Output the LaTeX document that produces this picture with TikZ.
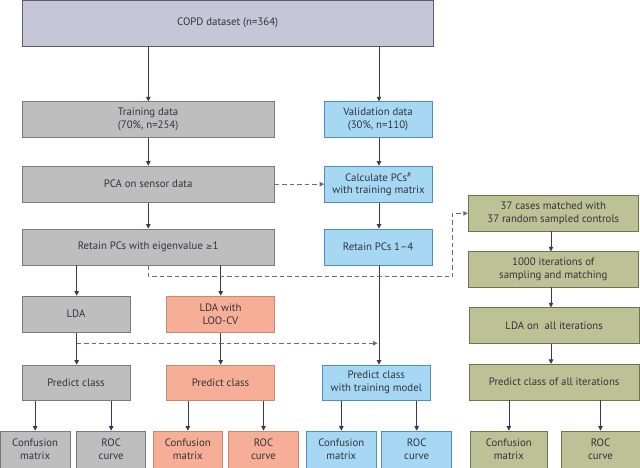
\documentclass[tikz,border=0pt]{standalone}
\usepackage{fontspec}
\setmainfont{PT Sans}
\newfontfamily\symf{DejaVu Sans}
\usetikzlibrary{arrows.meta}
\definecolor{copdF}{HTML}{C6C6D9}
\definecolor{copdD}{HTML}{5E5A72}
\definecolor{greyF}{HTML}{BEBEBE}
\definecolor{greyD}{HTML}{7A7A7A}
\definecolor{blueF}{HTML}{A6D8F4}
\definecolor{blueD}{HTML}{4F8EC0}
\definecolor{redF}{HTML}{F6AE96}
\definecolor{redD}{HTML}{C98870}
\definecolor{greenF}{HTML}{BDC196}
\definecolor{greenD}{HTML}{70744E}
\definecolor{arrC}{HTML}{3F3454}
\definecolor{dashC}{HTML}{6E6880}
\definecolor{txtC}{HTML}{33333D}
\tikzset{
  box/.style={draw, line width=0.8pt, inner sep=0pt, align=center, text=txtC,
    font=\fontsize{10.8}{12.7}\selectfont},
  copdbox/.style={box, fill=copdF, draw=copdD},
  greybox/.style={box, fill=greyF, draw=greyD},
  bluebox/.style={box, fill=blueF, draw=blueD},
  redbox/.style={box, fill=redF, draw=redD},
  greenbox/.style={box, fill=greenF, draw=greenD},
  arr/.style={draw=arrC, line width=0.7pt, -{Triangle[width=4.5pt,length=4.5pt]}},
  darr/.style={draw=dashC, line width=0.8pt, dash pattern=on 4.5pt off 3pt, -{Triangle[width=4.5pt,length=4.5pt]}}
}
\newcommand\bx[7]{\node[#6, minimum width={(#4-#2)*1pt}, minimum height={(#5-#3)*1pt}] (#1) at ({(#2+#4)/2},{(#3+#5)/2}) {#7};}
\begin{document}
\begin{tikzpicture}[x=1pt,y=-1pt]
\useasboundingbox (0,0) rectangle (640,468);
\fill[white] (0,0) rectangle (640,468);
% boxes
\bx{copd}{22}{0.4}{433.3}{46}{copdbox}{COPD dataset (n=364)}
\bx{trn}{22}{101.7}{274.3}{137.3}{greybox}{Training data\\(70\%, n=254)}
\bx{val}{324}{101.7}{432}{137.3}{bluebox}{Validation data\\(30\%, n=110)}
\bx{pca}{22}{166}{274.3}{202.3}{greybox}{PCA on sensor data}
\bx{calc}{324.5}{166}{432.5}{202.3}{bluebox}{Calculate PCs$^{\#}$\\with training matrix}
\bx{ret}{22}{229}{274.3}{265}{greybox}{Retain PCs with eigenvalue {\symf\fontsize{8}{9}\selectfont ≥}1}
\bx{ret4}{324}{229}{432}{265}{bluebox}{Retain PCs 1–4}
\bx{lda}{22}{296}{130}{332.3}{greybox}{LDA}
\bx{ldacv}{166.7}{296}{274.3}{332.3}{redbox}{LDA with\\LOO-CV}
\bx{pgrey}{22}{365}{130}{400.3}{greybox}{Predict class}
\bx{pred}{166.7}{365}{274.3}{400.3}{redbox}{Predict class}
\bx{pblue}{322.3}{365}{430.3}{400.3}{bluebox}{Predict class\\with training model}
\bx{c37}{468.3}{195.7}{638.3}{231}{greenbox}{37 cases matched with\\37 random sampled controls}
\bx{it}{468.3}{251.7}{638.3}{287}{greenbox}{1000 iterations of\\sampling and matching}
\bx{ldaall}{469.3}{307.7}{639}{343.3}{greenbox}{LDA on\ \ all iterations}
\bx{pall}{469.3}{364.3}{639}{400}{greenbox}{Predict class of all iterations}
\bx{cm1}{0}{431}{70.3}{468}{greybox}{Confusion\\matrix}
\bx{roc1}{76.7}{431}{145.7}{468}{greybox}{ROC\\curve}
\bx{cm2}{153}{431}{222.7}{468}{redbox}{Confusion\\matrix}
\bx{roc2}{228.3}{431}{298.7}{468}{redbox}{ROC\\curve}
\bx{cm3}{306.7}{431}{376}{468}{bluebox}{Confusion\\matrix}
\bx{roc3}{381.7}{431}{451.7}{468}{bluebox}{ROC\\curve}
\bx{cm4}{470}{431}{547.7}{468}{greenbox}{Confusion\\matrix}
\bx{roc4}{561}{431}{640}{468}{greenbox}{ROC\\curve}
% column coordinates
\coordinate (xa) at (148.3,0);
\coordinate (xb) at (379,0);
\coordinate (xc) at (76.7,0);
\coordinate (xd) at (220.7,0);
\coordinate (xe) at (551,0);
\coordinate (dturn) at (452.3,276.7);
\coordinate (dl) at (76.7,343.3);
% solid arrows
\draw[arr] (copd.south -| xa) -- (trn.north -| xa);
\draw[arr] (copd.south -| xb) -- (val.north -| xb);
\draw[arr] (trn.south -| xa) -- (pca.north -| xa);
\draw[arr] (val.south -| xb) -- (calc.north -| xb);
\draw[arr] (pca.south -| xa) -- (ret.north -| xa);
\draw[arr] (calc.south -| xb) -- (ret4.north -| xb);
\draw[arr] (ret.south -| xc) -- (lda.north -| xc);
\draw[arr] (ret.south -| xd) -- (ldacv.north -| xd);
\draw[arr] (ret4.south -| xb) -- (pblue.north -| xb);
\draw[arr] (lda.south -| xc) -- (pgrey.north -| xc);
\draw[arr] (ldacv.south -| xd) -- (pred.north -| xd);
\draw[arr] (c37.south -| xe) -- (it.north -| xe);
\draw[arr] (it.south -| xe) -- (ldaall.north -| xe);
\draw[arr] (ldaall.south -| xe) -- (pall.north -| xe);
\foreach \p/\c in {pgrey/cm1, pgrey/roc1, pred/cm2, pred/roc2, pblue/cm3, pblue/roc3, pall/cm4, pall/roc4}
  \draw[arr] (\p.south -| \c.north) -- (\c.north);
% dashed arrows
\draw[darr] (pca.east) -- (calc.west);
\draw[darr] (ret.south -| xa) |- (dturn) |- (c37.west);
\draw[darr, shorten >=1.5pt] (dl) -- (dl -| xb);
\end{tikzpicture}
\end{document}
